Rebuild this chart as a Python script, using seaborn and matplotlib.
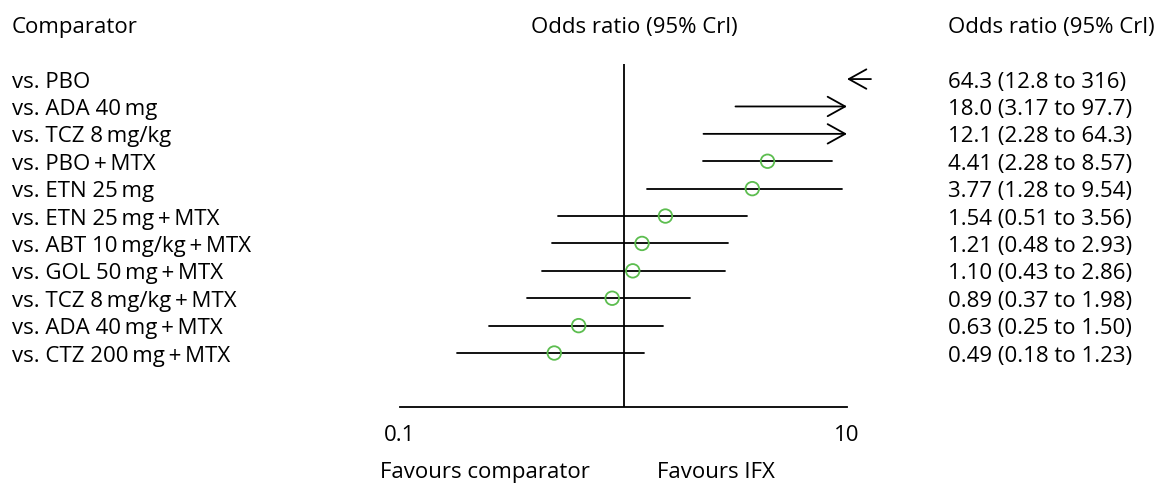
import matplotlib
matplotlib.use('Agg')
import matplotlib.pyplot as plt
import matplotlib.transforms as mtransforms
import numpy as np
import pandas as pd
import seaborn as sns

comparators = ['vs. PBO', 'vs. ADA 40\u2009mg', 'vs. TCZ 8\u2009mg/kg', 'vs. PBO\u2009+\u2009MTX',
               'vs. ETN 25\u2009mg', 'vs. ETN 25\u2009mg\u2009+\u2009MTX', 'vs. ABT 10\u2009mg/kg\u2009+\u2009MTX',
               'vs. GOL 50\u2009mg\u2009+\u2009MTX', 'vs. TCZ 8\u2009mg/kg\u2009+\u2009MTX',
               'vs. ADA 40\u2009mg\u2009+\u2009MTX', 'vs. CTZ 200\u2009mg\u2009+\u2009MTX']
odds = [64.3, 18.0, 12.1, 4.41, 3.77, 1.54, 1.21, 1.10, 0.89, 0.63, 0.49]
lower = [12.8, 3.17, 2.28, 2.28, 1.28, 0.51, 0.48, 0.43, 0.37, 0.25, 0.18]
upper = [316, 97.7, 64.3, 8.57, 9.54, 3.56, 2.93, 2.86, 1.98, 1.50, 1.23]
or_labels = ['64.3 (12.8 to 316)', '18.0 (3.17 to 97.7)', '12.1 (2.28 to 64.3)', '4.41 (2.28 to 8.57)',
             '3.77 (1.28 to 9.54)', '1.54 (0.51 to 3.56)', '1.21 (0.48 to 2.93)', '1.10 (0.43 to 2.86)',
             '0.89 (0.37 to 1.98)', '0.63 (0.25 to 1.50)', '0.49 (0.18 to 1.23)']

df = pd.DataFrame({'comp': comparators, 'odds': odds, 'lo': lower, 'hi': upper})
df['row'] = np.arange(len(df))

sns.set_style('white')
plt.rcParams['font.family'] = ['Open Sans', 'DejaVu Sans']
plt.rcParams['text.color'] = 'black'
plt.rcParams['xtick.color'] = 'black'
fs = 16

fig = plt.figure(figsize=(11.71, 4.90), dpi=100)
W, H = 1171, 490
ax = fig.add_axes([400 / W, 1 - 407 / H, 447 / W, (407 - 64) / H])
ax.set_xscale('log')
ax.set_xlim(0.1, 10)
ax.set_ylim(11.97, -0.55)

xmax = 10
arrow = dict(arrowstyle='->,head_length=0.45,head_width=0.25', mutation_scale=28,
             lw=1.3, color='black', shrinkA=0, shrinkB=0)
for _, r in df.iterrows():
    if r.hi > xmax:
        # interval runs past the axis end: draw an arrow to 10
        ax.annotate('', xy=(xmax, r.row), xytext=(r.lo, r.row),
                    arrowprops=arrow, annotation_clip=False)
    else:
        ax.plot([r.lo, r.hi], [r.row, r.row], color='black', lw=1.3)

inside = df[df.odds < xmax]
sns.scatterplot(data=inside, x='odds', y='row', ax=ax, marker='o', s=95,
                facecolor='none', edgecolor='#5cbd4f', linewidth=1.3, zorder=3)

ax.axvline(1, color='black', lw=1.3)
for s in ['top', 'left', 'right']:
    ax.spines[s].set_visible(False)
ax.spines['bottom'].set_linewidth(1.3)
ax.spines['bottom'].set_color('black')
ax.set_xticks([0.1, 10])
ax.set_xticklabels(['0.1', '10'])
ax.xaxis.set_minor_locator(matplotlib.ticker.NullLocator())
ax.tick_params(axis='x', length=0, pad=13, labelsize=fs, labelcolor='black')
ax.set_yticks([])
ax.set_xlabel('')
ax.set_ylabel('')

trans_left = mtransforms.blended_transform_factory(fig.transFigure, ax.transData)
trans_left = mtransforms.offset_copy(trans_left, fig=fig, y=-3, units='dots')
for _, r in df.iterrows():
    ax.text(12 / W, r.row, r.comp, transform=trans_left, ha='left', va='center', fontsize=fs)
    ax.text(948 / W, r.row, or_labels[int(r.row)], transform=trans_left, ha='left', va='center', fontsize=fs)

fig.text(12 / W, 1 - 27 / H, 'Comparator', ha='left', va='center', fontsize=fs)
fig.text(634 / W, 1 - 27 / H, 'Odds ratio (95% Crl)', ha='center', va='center', fontsize=fs)
fig.text(948 / W, 1 - 27 / H, 'Odds ratio (95% Crl)', ha='left', va='center', fontsize=fs)
fig.text(380 / W, 1 - 472 / H, 'Favours comparator', ha='left', va='center', fontsize=fs)
fig.text(657 / W, 1 - 472 / H, 'Favours IFX', ha='left', va='center', fontsize=fs)

fig.savefig('out.png', dpi=100, facecolor='white')
